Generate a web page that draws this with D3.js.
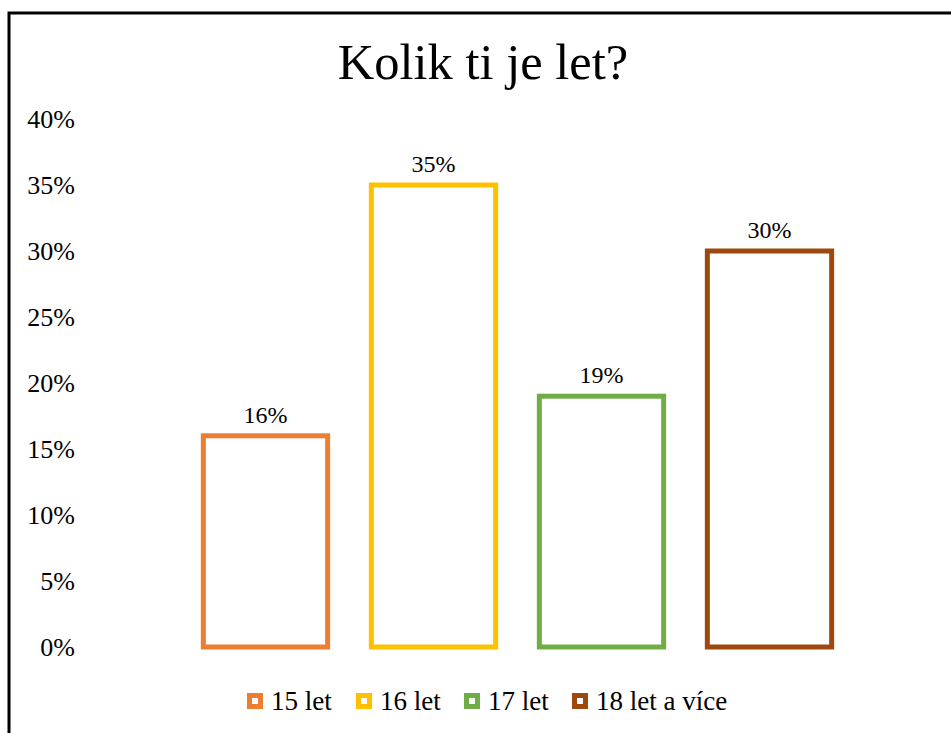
<!DOCTYPE html>
<html><head><meta charset="utf-8">
<script src="https://cdn.jsdelivr.net/npm/d3@7"></script>
<style>html,body{margin:0;padding:0;background:#fff;overflow:hidden}</style>
</head><body><svg id="c" width="951" height="733"></svg>
<script>
const categories = ["15 let", "16 let", "17 let", "18 let a více"];
const values = [0.16, 0.35, 0.19, 0.30];
const colors = ["#ED7D31", "#FFC000", "#70AD47", "#9E480E"];
const yTicks = [0, 0.05, 0.10, 0.15, 0.20, 0.25, 0.30, 0.35, 0.40];
const title = "Kolik ti je let?";

const svg = d3.select("#c");
const font = "Liberation Serif";
svg.append("rect").attr("x", 9).attr("y", 13).attr("width", 1000).attr("height", 1000)
  .attr("fill", "#fff").attr("stroke", "#000").attr("stroke-width", 3);

svg.append("text").attr("x", 483).attr("y", 79).attr("text-anchor", "middle")
  .style("font-family", font).attr("font-size", 50.5).attr("fill", "#000").text(title);

const x = d3.scaleBand().domain(categories).range([181.5, 853.5]).paddingInner(0.26).paddingOuter(0.13);
const y = d3.scaleLinear().domain([0, 0.4]).range([647, 119]);

const yAxis = d3.axisLeft(y).tickValues(yTicks).tickFormat(d3.format(".0%")).tickSize(0).tickPadding(0);
const ga = svg.append("g").attr("transform", "translate(75,0)").call(yAxis);
ga.select(".domain").remove();
ga.selectAll("text").style("font-family", font).attr("font-size", 26).attr("fill", "#000").attr("dy", "0.33em");

svg.append("g").selectAll("rect").data(values).join("rect")
  .attr("x", (d, i) => x(categories[i]))
  .attr("width", x.bandwidth())
  .attr("y", d => y(d))
  .attr("height", d => y(0) - y(d))
  .attr("fill", "none")
  .attr("stroke", (d, i) => colors[i])
  .attr("stroke-width", 5);

svg.append("g").selectAll("text").data(values).join("text")
  .attr("x", (d, i) => x(categories[i]) + x.bandwidth() / 2)
  .attr("y", d => y(d) - 13)
  .attr("text-anchor", "middle")
  .style("font-family", font).attr("font-size", 24).attr("fill", "#000")
  .text(d => d3.format(".0%")(d));

// legend
const legX = [247, 356, 464, 572];
const lg = svg.append("g").selectAll("g").data(categories).join("g")
  .attr("transform", (d, i) => `translate(${legX[i]},701)`);
lg.append("rect").attr("x", 2.5).attr("y", -5.5).attr("width", 11).attr("height", 11)
  .attr("fill", "#fff").attr("stroke", (d, i) => colors[i]).attr("stroke-width", 5);
lg.append("text").attr("x", 24).attr("y", 0).attr("dy", "0.33em")
  .style("font-family", font).attr("font-size", 27).attr("fill", "#000").text(d => d);
</script></body></html>
